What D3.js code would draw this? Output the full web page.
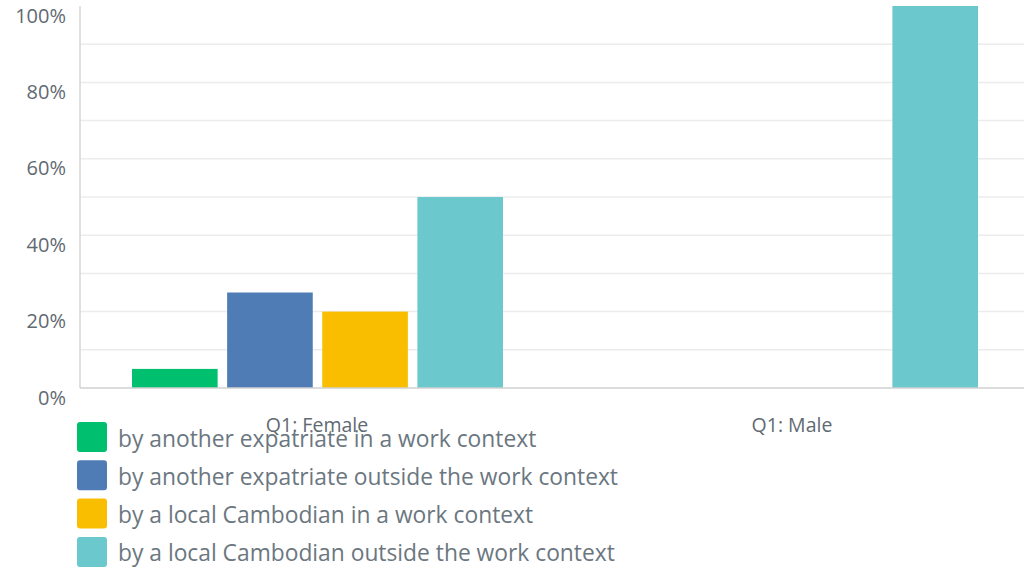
<!DOCTYPE html>
<html><head><meta charset="utf-8">
<script src="https://cdn.jsdelivr.net/npm/d3@7"></script>
<style>
html,body{margin:0;padding:0;background:#fff;}
svg{display:block;font-family:"Open Sans",sans-serif;}
</style></head>
<body><svg id="c" width="1024" height="568"></svg>
<script>
const categories = ["Q1: Female", "Q1: Male"];
const seriesNames = [
  "by another expatriate in a work context",
  "by another expatriate outside the work context",
  "by a local Cambodian in a work context",
  "by a local Cambodian outside the work context"
];
const seriesColors = ["#00bf6f", "#507cb6", "#f9be00", "#6bc8cd"];
const femaleValues = [5, 25, 20, 50];
const maleValues = [0, 0, 0, 100];
const yTicks = [0, 20, 40, 60, 80, 100];
const gridTicks = [10, 20, 30, 40, 50, 60, 70, 80, 90];

const valuesByCat = [femaleValues, maleValues];
const svg = d3.select("#c");
const mLeft = 80, mRight = 1030, mTop = 6, mBottom = 388;

const y = d3.scaleLinear().domain([0, 100]).range([mBottom, mTop]);
const x0 = d3.scaleBand().domain(categories).range([mLeft, mRight]);
const x1 = d3.scaleBand().domain(seriesNames).range([52, 475 - 52]).paddingInner(0.1);

// grid
svg.append("g").selectAll("line").data(gridTicks).join("line")
  .attr("x1", mLeft).attr("x2", 1024)
  .attr("y1", d => y(d)).attr("y2", d => y(d))
  .attr("stroke", "#ececec").attr("stroke-width", 1.5);

// bars
const data = [];
categories.forEach((c, i) => seriesNames.forEach((s, j) => {
  data.push({c, s, v: valuesByCat[i][j], color: seriesColors[j]});
}));
svg.append("g").selectAll("rect").data(data.filter(d => d.v > 0)).join("rect")
  .attr("x", d => x0(d.c) + x1(d.s))
  .attr("width", x1.bandwidth())
  .attr("y", d => y(d.v))
  .attr("height", d => y(0) - y(d.v))
  .attr("fill", d => d.color);

// axes lines
svg.append("line").attr("x1", mLeft).attr("x2", mLeft).attr("y1", mTop).attr("y2", mBottom)
  .attr("stroke", "#d6d6d6").attr("stroke-width", 1.5);
svg.append("line").attr("x1", mLeft).attr("x2", 1024).attr("y1", mBottom).attr("y2", mBottom)
  .attr("stroke", "#d0d0d0").attr("stroke-width", 1.5);

// y labels
svg.append("g").selectAll("text").data(yTicks).join("text")
  .attr("x", 66).attr("y", d => y(d) + 9)
  .attr("text-anchor", "end").attr("dominant-baseline", "central")
  .attr("font-size", 20).attr("fill", "#5f6a72")
  .text(d => d + "%");

// x labels
svg.append("g").selectAll("text").data(categories).join("text")
  .attr("x", d => x0(d) + x0.bandwidth() / 2 - 0.5)
  .attr("y", 424).attr("text-anchor", "middle").attr("dominant-baseline", "central")
  .attr("font-size", 19.5).attr("fill", "#5f6a72")
  .text(d => d);

// legend
const lg = svg.append("g").selectAll("g").data(seriesNames).join("g")
  .attr("transform", (d, i) => `translate(77,${422 + i * 38.3})`);
lg.append("rect").attr("width", 30).attr("height", 30).attr("rx", 3)
  .attr("fill", (d, i) => seriesColors[i]);
lg.append("text").attr("x", 41).attr("y", 16).attr("dominant-baseline", "central")
  .attr("font-size", 22.8).attr("fill", "#6b7780")
  .text(d => d);
</script></body></html>
